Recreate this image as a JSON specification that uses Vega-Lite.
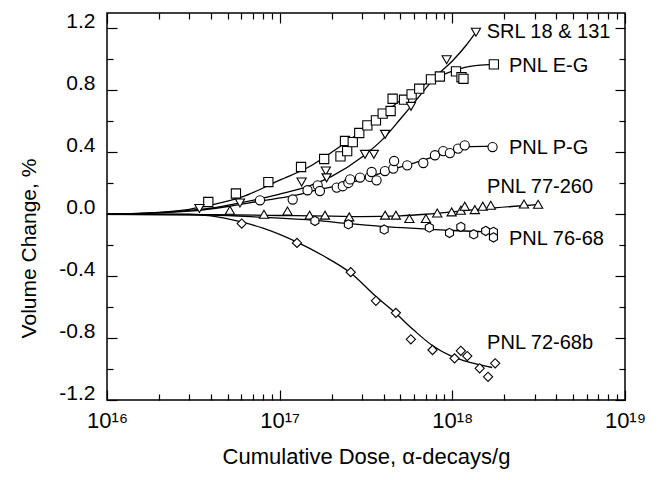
{
  "$schema": "https://vega.github.io/schema/vega-lite/v6.json",
  "width": 518,
  "height": 387,
  "autosize": {"type": "none"},
  "padding": {"left": 107, "top": 13, "right": 32, "bottom": 80},
  "background": "white",
  "config": {
    "font": "Liberation Sans",
    "view": {"stroke": "black", "strokeWidth": 1.5},
    "axis": {"grid": false, "domain": false, "tickColor": "black", "tickWidth": 1.2, "labelColor": "black", "titleColor": "black", "labelFont": "Liberation Sans", "titleFont": "Liberation Sans", "titleFontWeight": "normal"}
  },
  "datasets": {
    "points": [
      {"series": "E-G", "dose": 3.86e16, "vol": 0.079},
      {"series": "E-G", "dose": 5.58e16, "vol": 0.134},
      {"series": "E-G", "dose": 8.6e16, "vol": 0.208},
      {"series": "E-G", "dose": 1.33e17, "vol": 0.305},
      {"series": "E-G", "dose": 1.81e17, "vol": 0.357},
      {"series": "E-G", "dose": 2.25e17, "vol": 0.374},
      {"series": "E-G", "dose": 2.46e17, "vol": 0.408},
      {"series": "E-G", "dose": 2.39e17, "vol": 0.473},
      {"series": "E-G", "dose": 2.65e17, "vol": 0.466},
      {"series": "E-G", "dose": 2.89e17, "vol": 0.525},
      {"series": "E-G", "dose": 3.22e17, "vol": 0.574},
      {"series": "E-G", "dose": 3.61e17, "vol": 0.606},
      {"series": "E-G", "dose": 3.95e17, "vol": 0.65},
      {"series": "E-G", "dose": 4.39e17, "vol": 0.667},
      {"series": "E-G", "dose": 4.51e17, "vol": 0.746},
      {"series": "E-G", "dose": 5.25e17, "vol": 0.74},
      {"series": "E-G", "dose": 5.81e17, "vol": 0.774},
      {"series": "E-G", "dose": 6.43e17, "vol": 0.811},
      {"series": "E-G", "dose": 7.52e17, "vol": 0.871},
      {"series": "E-G", "dose": 8.47e17, "vol": 0.89},
      {"series": "E-G", "dose": 1.05e18, "vol": 0.923},
      {"series": "E-G", "dose": 1.13e18, "vol": 0.885},
      {"series": "E-G", "dose": 1.16e18, "vol": 0.875},
      {"series": "E-G", "dose": 1.74e18, "vol": 0.968},
      {"series": "SRL", "dose": 3.43e16, "vol": 0.037},
      {"series": "SRL", "dose": 5.89e16, "vol": 0.073},
      {"series": "SRL", "dose": 1.34e17, "vol": 0.208},
      {"series": "SRL", "dose": 1.85e17, "vol": 0.279},
      {"series": "SRL", "dose": 1.87e17, "vol": 0.235},
      {"series": "SRL", "dose": 3.12e17, "vol": 0.387},
      {"series": "SRL", "dose": 3.51e17, "vol": 0.387},
      {"series": "SRL", "dose": 4.08e17, "vol": 0.516},
      {"series": "SRL", "dose": 5.76e17, "vol": 0.697},
      {"series": "SRL", "dose": 9.27e17, "vol": 0.998},
      {"series": "SRL", "dose": 1.37e18, "vol": 1.176},
      {"series": "P-G", "dose": 7.69e16, "vol": 0.09},
      {"series": "P-G", "dose": 1.19e17, "vol": 0.095},
      {"series": "P-G", "dose": 1.45e17, "vol": 0.155},
      {"series": "P-G", "dose": 1.66e17, "vol": 0.187},
      {"series": "P-G", "dose": 1.71e17, "vol": 0.15},
      {"series": "P-G", "dose": 2.14e17, "vol": 0.172},
      {"series": "P-G", "dose": 2.32e17, "vol": 0.181},
      {"series": "P-G", "dose": 2.5e17, "vol": 0.202},
      {"series": "P-G", "dose": 2.56e17, "vol": 0.225},
      {"series": "P-G", "dose": 2.92e17, "vol": 0.237},
      {"series": "P-G", "dose": 3.33e17, "vol": 0.241},
      {"series": "P-G", "dose": 3.41e17, "vol": 0.273},
      {"series": "P-G", "dose": 3.64e17, "vol": 0.219},
      {"series": "P-G", "dose": 4.07e17, "vol": 0.279},
      {"series": "P-G", "dose": 4.55e17, "vol": 0.295},
      {"series": "P-G", "dose": 4.6e17, "vol": 0.344},
      {"series": "P-G", "dose": 5.48e17, "vol": 0.316},
      {"series": "P-G", "dose": 6.79e17, "vol": 0.331},
      {"series": "P-G", "dose": 7.93e17, "vol": 0.381},
      {"series": "P-G", "dose": 8.86e17, "vol": 0.408},
      {"series": "P-G", "dose": 9.68e17, "vol": 0.395},
      {"series": "P-G", "dose": 1.08e18, "vol": 0.424},
      {"series": "P-G", "dose": 1.18e18, "vol": 0.445},
      {"series": "P-G", "dose": 1.71e18, "vol": 0.434},
      {"series": "77-260", "dose": 5.15e16, "vol": 0.026},
      {"series": "77-260", "dose": 8.11e16, "vol": 0.0},
      {"series": "77-260", "dose": 1.11e17, "vol": 0.021},
      {"series": "77-260", "dose": 1.49e17, "vol": -0.006},
      {"series": "77-260", "dose": 1.83e17, "vol": -0.006},
      {"series": "77-260", "dose": 2.53e17, "vol": -0.017},
      {"series": "77-260", "dose": 4.08e17, "vol": -0.006},
      {"series": "77-260", "dose": 4.71e17, "vol": -0.006},
      {"series": "77-260", "dose": 5.64e17, "vol": -0.028},
      {"series": "77-260", "dose": 7.03e17, "vol": -0.028},
      {"series": "77-260", "dose": 8.18e17, "vol": 0.008},
      {"series": "77-260", "dose": 9.91e17, "vol": 0.015},
      {"series": "77-260", "dose": 1.12e18, "vol": 0.026},
      {"series": "77-260", "dose": 1.18e18, "vol": 0.052},
      {"series": "77-260", "dose": 1.35e18, "vol": 0.03},
      {"series": "77-260", "dose": 1.5e18, "vol": 0.052},
      {"series": "77-260", "dose": 1.67e18, "vol": 0.058},
      {"series": "77-260", "dose": 2.6e18, "vol": 0.066},
      {"series": "77-260", "dose": 3.14e18, "vol": 0.064},
      {"series": "76-68", "dose": 1.6e17, "vol": -0.043},
      {"series": "76-68", "dose": 2.5e17, "vol": -0.065},
      {"series": "76-68", "dose": 4.03e17, "vol": -0.099},
      {"series": "76-68", "dose": 7.36e17, "vol": -0.086},
      {"series": "76-68", "dose": 9.63e17, "vol": -0.121},
      {"series": "76-68", "dose": 1.12e18, "vol": -0.082},
      {"series": "76-68", "dose": 1.33e18, "vol": -0.13},
      {"series": "76-68", "dose": 1.56e18, "vol": -0.108},
      {"series": "76-68", "dose": 1.73e18, "vol": -0.114},
      {"series": "76-68", "dose": 1.73e18, "vol": -0.15},
      {"series": "72-68b", "dose": 6.03e16, "vol": -0.06},
      {"series": "72-68b", "dose": 1.26e17, "vol": -0.185},
      {"series": "72-68b", "dose": 2.58e17, "vol": -0.374},
      {"series": "72-68b", "dose": 3.61e17, "vol": -0.559},
      {"series": "72-68b", "dose": 4.71e17, "vol": -0.637},
      {"series": "72-68b", "dose": 5.75e17, "vol": -0.808},
      {"series": "72-68b", "dose": 7.68e17, "vol": -0.877},
      {"series": "72-68b", "dose": 1.03e18, "vol": -0.931},
      {"series": "72-68b", "dose": 1.12e18, "vol": -0.882},
      {"series": "72-68b", "dose": 1.22e18, "vol": -0.916},
      {"series": "72-68b", "dose": 1.44e18, "vol": -0.995},
      {"series": "72-68b", "dose": 1.61e18, "vol": -1.05},
      {"series": "72-68b", "dose": 1.77e18, "vol": -0.963}
    ],
    "fits": [
      {"series": "E-G", "dose": 1e16, "vol": 0},
      {"series": "E-G", "dose": 2e16, "vol": 0.012},
      {"series": "E-G", "dose": 3e16, "vol": 0.032},
      {"series": "E-G", "dose": 4e16, "vol": 0.06},
      {"series": "E-G", "dose": 6e16, "vol": 0.11},
      {"series": "E-G", "dose": 1e17, "vol": 0.22},
      {"series": "E-G", "dose": 1.5e17, "vol": 0.31},
      {"series": "E-G", "dose": 2e17, "vol": 0.4},
      {"series": "E-G", "dose": 3e17, "vol": 0.54},
      {"series": "E-G", "dose": 4e17, "vol": 0.65},
      {"series": "E-G", "dose": 5e17, "vol": 0.735},
      {"series": "E-G", "dose": 6.5e17, "vol": 0.82},
      {"series": "E-G", "dose": 8e17, "vol": 0.88},
      {"series": "E-G", "dose": 1e18, "vol": 0.925},
      {"series": "E-G", "dose": 1.2e18, "vol": 0.95},
      {"series": "E-G", "dose": 1.4e18, "vol": 0.962},
      {"series": "E-G", "dose": 1.74e18, "vol": 0.968},
      {"series": "SRL", "dose": 1e16, "vol": 0},
      {"series": "SRL", "dose": 2e16, "vol": 0.01},
      {"series": "SRL", "dose": 3e16, "vol": 0.025},
      {"series": "SRL", "dose": 4e16, "vol": 0.04},
      {"series": "SRL", "dose": 6e16, "vol": 0.075},
      {"series": "SRL", "dose": 1e17, "vol": 0.13},
      {"series": "SRL", "dose": 1.5e17, "vol": 0.185},
      {"series": "SRL", "dose": 2e17, "vol": 0.245},
      {"series": "SRL", "dose": 3e17, "vol": 0.37},
      {"series": "SRL", "dose": 4e17, "vol": 0.49},
      {"series": "SRL", "dose": 5e17, "vol": 0.615},
      {"series": "SRL", "dose": 6e17, "vol": 0.72},
      {"series": "SRL", "dose": 8.2e17, "vol": 0.9},
      {"series": "SRL", "dose": 1e18, "vol": 0.99},
      {"series": "SRL", "dose": 1.2e18, "vol": 1.09},
      {"series": "SRL", "dose": 1.37e18, "vol": 1.176},
      {"series": "P-G", "dose": 1e16, "vol": 0},
      {"series": "P-G", "dose": 3e16, "vol": 0.02},
      {"series": "P-G", "dose": 5e16, "vol": 0.05},
      {"series": "P-G", "dose": 7.7e16, "vol": 0.085},
      {"series": "P-G", "dose": 1.2e17, "vol": 0.12},
      {"series": "P-G", "dose": 1.7e17, "vol": 0.16},
      {"series": "P-G", "dose": 2.5e17, "vol": 0.2},
      {"series": "P-G", "dose": 3.5e17, "vol": 0.25},
      {"series": "P-G", "dose": 4.5e17, "vol": 0.29},
      {"series": "P-G", "dose": 6e17, "vol": 0.33},
      {"series": "P-G", "dose": 8e17, "vol": 0.375},
      {"series": "P-G", "dose": 1e18, "vol": 0.41},
      {"series": "P-G", "dose": 1.2e18, "vol": 0.435},
      {"series": "P-G", "dose": 1.71e18, "vol": 0.44},
      {"series": "77-260", "dose": 1e16, "vol": 0},
      {"series": "77-260", "dose": 4e16, "vol": -0.003},
      {"series": "77-260", "dose": 1e17, "vol": -0.008},
      {"series": "77-260", "dose": 2e17, "vol": -0.012},
      {"series": "77-260", "dose": 3e17, "vol": -0.015},
      {"series": "77-260", "dose": 5e17, "vol": -0.01},
      {"series": "77-260", "dose": 7e17, "vol": 0.0},
      {"series": "77-260", "dose": 1e18, "vol": 0.015},
      {"series": "77-260", "dose": 1.5e18, "vol": 0.035},
      {"series": "77-260", "dose": 2.2e18, "vol": 0.05},
      {"series": "77-260", "dose": 3.14e18, "vol": 0.062},
      {"series": "76-68", "dose": 1e16, "vol": 0},
      {"series": "76-68", "dose": 4e16, "vol": -0.005},
      {"series": "76-68", "dose": 8e16, "vol": -0.02},
      {"series": "76-68", "dose": 1.6e17, "vol": -0.04},
      {"series": "76-68", "dose": 2.5e17, "vol": -0.06},
      {"series": "76-68", "dose": 4e17, "vol": -0.08},
      {"series": "76-68", "dose": 7e17, "vol": -0.095},
      {"series": "76-68", "dose": 1e18, "vol": -0.105},
      {"series": "76-68", "dose": 1.3e18, "vol": -0.11},
      {"series": "76-68", "dose": 1.73e18, "vol": -0.115},
      {"series": "72-68b", "dose": 1e16, "vol": 0},
      {"series": "72-68b", "dose": 3e16, "vol": 0.0},
      {"series": "72-68b", "dose": 4e16, "vol": -0.01},
      {"series": "72-68b", "dose": 6e16, "vol": -0.05},
      {"series": "72-68b", "dose": 8e16, "vol": -0.09},
      {"series": "72-68b", "dose": 1.26e17, "vol": -0.18},
      {"series": "72-68b", "dose": 1.8e17, "vol": -0.27},
      {"series": "72-68b", "dose": 2.58e17, "vol": -0.38},
      {"series": "72-68b", "dose": 3.6e17, "vol": -0.53},
      {"series": "72-68b", "dose": 4.7e17, "vol": -0.64},
      {"series": "72-68b", "dose": 6e17, "vol": -0.75},
      {"series": "72-68b", "dose": 7.7e17, "vol": -0.85},
      {"series": "72-68b", "dose": 1e18, "vol": -0.92},
      {"series": "72-68b", "dose": 1.3e18, "vol": -0.96},
      {"series": "72-68b", "dose": 1.7e18, "vol": -0.99}
    ],
    "labels": [
      {"label": "SRL 18 & 131", "dose": 1.58e18, "vol": 1.176},
      {"label": "PNL E-G", "dose": 2.13e18, "vol": 0.955},
      {"label": "PNL P-G", "dose": 2.13e18, "vol": 0.43},
      {"label": "PNL 77-260", "dose": 1.59e18, "vol": 0.176},
      {"label": "PNL 76-68", "dose": 2.13e18, "vol": -0.163},
      {"label": "PNL 72-68b", "dose": 1.59e18, "vol": -0.83}
    ]
  },
  "resolve": {"axis": {"x": "independent", "y": "independent"}},
  "layer": [
    {
      "data": {"name": "fits"},
      "transform": [{"filter": "datum.series == 'E-G' || datum.series == 'SRL' || datum.series == 'P-G'"}],
      "mark": {"type": "line", "color": "black", "strokeWidth": 1.3, "interpolate": "monotone"},
      "encoding": {
        "x": {"field": "dose", "type": "quantitative", "scale": {"type": "log", "domain": [1e16, 1e19], "nice": false},
          "axis": {"orient": "bottom", "values": [1e16, 1e17, 1e18, 1e19], "tickSize": -10, "labelPadding": 20, "labelFontSize": 22, "labelFlush": false,
            "labelExpr": "datum.value < 5e16 ? '10¹⁶' : datum.value < 5e17 ? '10¹⁷' : datum.value < 5e18 ? '10¹⁸' : '10¹⁹'",
            "title": "Cumulative Dose, α-decays/g", "titleFontSize": 22, "titleY": 56, "titleBaseline": "middle"}},
        "y": {"field": "vol", "type": "quantitative", "scale": {"domain": [-1.2, 1.3], "nice": false, "zero": false},
          "axis": {"orient": "left", "values": [-1.2, -0.8, -0.4, 0, 0.4, 0.8, 1.2], "tickSize": -10, "labelPadding": 22, "labelFontSize": 21, "labelOffset": -7, "labelFlush": false,
            "labelExpr": "replace(format(datum.value, '.1f'), '−', '-')",
            "title": "Volume Change, %", "titleFontSize": 21, "titleX": -78, "titleY": 235, "titleBaseline": "middle", "titleAlign": "center"}},
        "detail": {"field": "series"}
      }
    },
    {
      "data": {"name": "fits"},
      "transform": [{"filter": "datum.series == '77-260' || datum.series == '76-68' || datum.series == '72-68b'"}],
      "mark": {"type": "line", "color": "black", "strokeWidth": 1.3, "interpolate": "monotone"},
      "encoding": {
        "x": {"field": "dose", "type": "quantitative", "scale": {"type": "log", "domain": [1e16, 1e19], "nice": false},
          "axis": {"orient": "bottom", "values": [2e16, 3e16, 4e16, 5e16, 6e16, 7e16, 8e16, 9e16, 2e17, 3e17, 4e17, 5e17, 6e17, 7e17, 8e17, 9e17, 2e18, 3e18, 4e18, 5e18, 6e18, 7e18, 8e18, 9e18], "tickSize": -6, "labels": false, "title": null}},
        "y": {"field": "vol", "type": "quantitative", "scale": {"domain": [-1.2, 1.3], "nice": false, "zero": false},
          "axis": {"orient": "left", "values": [-1.0, -0.6, -0.2, 0.2, 0.6, 1.0], "tickSize": -6, "labels": false, "title": null}},
        "detail": {"field": "series"}
      }
    },
    {
      "data": {"name": "points"},
      "mark": {"type": "point", "filled": true, "fill": "white", "stroke": "black", "strokeWidth": 1.1, "size": 85, "opacity": 1},
      "encoding": {
        "x": {"field": "dose", "type": "quantitative", "scale": {"type": "log", "domain": [1e16, 1e19], "nice": false},
          "axis": {"orient": "top", "values": [1e16, 1e17, 1e18, 1e19], "tickSize": -10, "labels": false, "title": null}},
        "y": {"field": "vol", "type": "quantitative", "scale": {"domain": [-1.2, 1.3], "nice": false, "zero": false},
          "axis": {"orient": "right", "values": [-1.2, -0.8, -0.4, 0, 0.4, 0.8, 1.2], "tickSize": -10, "labels": false, "title": null}},
        "shape": {"field": "series", "type": "nominal", "legend": null,
          "scale": {"domain": ["E-G", "SRL", "P-G", "77-260", "76-68", "72-68b"],
            "range": ["square", "triangle-down", "circle", "triangle-up", "M0,-1L0.866,-0.5L0.866,0.5L0,1L-0.866,0.5L-0.866,-0.5Z", "diamond"]}}
      }
    },
    {
      "data": {"name": "labels"},
      "mark": {"type": "text", "align": "left", "baseline": "middle", "fontSize": 20, "color": "black", "font": "Liberation Sans"},
      "encoding": {
        "x": {"field": "dose", "type": "quantitative", "scale": {"type": "log", "domain": [1e16, 1e19], "nice": false},
          "axis": {"orient": "top", "values": [2e16, 3e16, 4e16, 5e16, 6e16, 7e16, 8e16, 9e16, 2e17, 3e17, 4e17, 5e17, 6e17, 7e17, 8e17, 9e17, 2e18, 3e18, 4e18, 5e18, 6e18, 7e18, 8e18, 9e18], "tickSize": -6, "labels": false, "title": null}},
        "y": {"field": "vol", "type": "quantitative", "scale": {"domain": [-1.2, 1.3], "nice": false, "zero": false},
          "axis": {"orient": "right", "values": [-1.0, -0.6, -0.2, 0.2, 0.6, 1.0], "tickSize": -6, "labels": false, "title": null}},
        "text": {"field": "label"}
      }
    }
  ]
}
